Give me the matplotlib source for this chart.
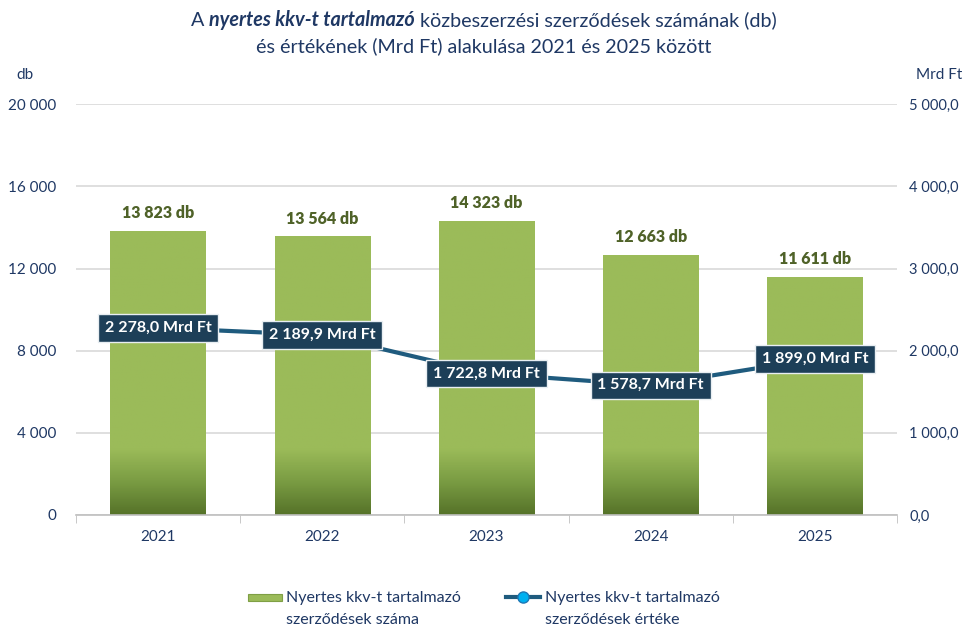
import numpy as np
import matplotlib
matplotlib.use("Agg")
import matplotlib.pyplot as plt
from matplotlib.patches import Rectangle
from matplotlib.lines import Line2D
from matplotlib.colors import LinearSegmentedColormap

plt.rcParams['font.family'] = ['Lato', 'DejaVu Sans']

years = ['2021', '2022', '2023', '2024', '2025']
counts = [13823, 13564, 14323, 12663, 11611]
values = [2278.0, 2189.9, 1722.8, 1578.7, 1899.0]

left_ticks = [0, 4000, 8000, 12000, 16000, 20000]
right_ticks = [0, 1000, 2000, 3000, 4000, 5000]

navy = '#1f3864'
bar_green = '#9bbb59'
line_col = '#1f5b7e'
box_col = '#1d3f58'
label_green = '#4f6228'


def hu_int(v):
    return f"{v:,.0f}".replace(',', ' ')


def hu_dec(v):
    return f"{v:,.1f}".replace(',', ' ').replace('.', ',')


fig = plt.figure(figsize=(9.67, 6.28), dpi=100)
ax = fig.add_axes([0.0786, 0.180, 0.849, 0.654])
ax2 = ax.twinx()

x = np.arange(len(years))
w = 0.58

# bars with dark gradient toward the base
cmap = LinearSegmentedColormap.from_list('g', ['#567329', '#7a9c43', bar_green, bar_green])
grad = np.linspace(0, 1, 256).reshape(-1, 1)
grad = np.clip(grad * 20000 / 4800, 0, 1)
for xi, c in zip(x, counts):
    rect = Rectangle((xi - w / 2, 0), w, c, facecolor=bar_green, edgecolor='none', zorder=2)
    ax.add_patch(rect)
    im = ax.imshow(grad, cmap=cmap, aspect='auto', origin='lower',
                   extent=(xi - w / 2, xi + w / 2, 0, 20000), zorder=2, vmin=0, vmax=1)
    im.set_clip_path(rect)
    ax.annotate(hu_int(c) + ' db', (xi, c), xytext=(0, 7), textcoords='offset points',
                ha='center', va='bottom', fontsize=11.5, fontweight='heavy', color=label_green)

ax.set_xlim(-0.5, len(years) - 0.5)
ax.set_ylim(0, 20000)
ax.set_yticks(left_ticks)
ax.set_yticklabels([hu_int(t) for t in left_ticks])
ax.grid(axis='y', color='#d9d9d9', lw=1.2, zorder=0)
ax.set_axisbelow(True)
ax.set_xticks(x)
ax.set_xticklabels(years)
ax.set_xticks(np.arange(-0.5, len(years)), minor=True)
ax.tick_params(axis='x', which='major', length=0, pad=11, labelsize=11, labelcolor=navy)
ax.tick_params(axis='x', which='minor', length=6, color='#bfbfbf')
ax.tick_params(axis='y', length=0, pad=14, labelsize=11, labelcolor=navy)
for s in ['top', 'left', 'right']:
    ax.spines[s].set_visible(False)
ax.spines['bottom'].set_color('#bfbfbf')
ax.spines['bottom'].set_linewidth(1.2)

ax2.plot(x, values, color=line_col, lw=3, marker='o', markersize=7,
         markerfacecolor='#00b0f0', markeredgecolor=line_col, zorder=3)
ax2.set_ylim(0, 5000)
ax2.set_yticks(right_ticks)
ax2.set_yticklabels([hu_dec(t) for t in right_ticks])
ax2.tick_params(axis='y', length=0, pad=9, labelsize=10.5, labelcolor=navy)
for s in ax2.spines.values():
    s.set_visible(False)
for xi, v in zip(x, values):
    ax2.text(xi, v, hu_dec(v) + ' Mrd Ft', ha='center', va='center', fontsize=11.5,
             fontweight='bold', color='white', zorder=5,
             bbox=dict(boxstyle='square,pad=0.42', facecolor=box_col, edgecolor='#e8eef2', lw=1))

fig.text(0.017, 0.88, 'db', fontsize=11, color=navy, ha='left', va='center')
fig.text(0.995, 0.88, 'Mrd Ft', fontsize=11, color=navy, ha='right', va='center')

# title with mixed styles on first line
fig.canvas.draw()
renderer = fig.canvas.get_renderer()
parts = [('A ', 'normal', 'normal'),
         ('nyertes kkv-t tartalmazó', 'bold', 'italic'),
         (' közbeszerzési szerződések számának (db)', 'normal', 'normal')]
texts = []
for s, wt, st in parts:
    t = fig.text(0, 0.968, s, fontsize=14.2, color=navy, fontweight=wt, fontstyle=st,
                 ha='left', va='center')
    texts.append(t)
widths = [t.get_window_extent(renderer).width for t in texts]
total = sum(widths)
xpix = fig.bbox.width / 2 - total / 2
for t, wd in zip(texts, widths):
    t.set_x(xpix / fig.bbox.width)
    xpix += wd
fig.text(0.5, 0.926, 'és értékének (Mrd Ft) alakulása 2021 és 2025 között', fontsize=14.2,
         color=navy, ha='center', va='center')

# legend drawn by hand so the keys sit on the first text line
fig.add_artist(Rectangle((248 / 967, 1 - 601 / 628), 34 / 967, 7 / 628,
                         transform=fig.transFigure, facecolor=bar_green, edgecolor='#7f9f45', lw=0.8))
fig.add_artist(Line2D([506 / 967, 540 / 967], [1 - 597 / 628] * 2, transform=fig.transFigure,
                      color=line_col, lw=3))
fig.add_artist(Line2D([523 / 967], [1 - 597 / 628], transform=fig.transFigure, marker='o',
                      markersize=8, markerfacecolor='#00b0f0', markeredgecolor='#1f77b4', lw=0))
fig.text(286 / 967, 1 - 598 / 628, 'Nyertes kkv-t tartalmazó', fontsize=11.5, color=navy,
         ha='left', va='center')
fig.text(286 / 967, 1 - 620 / 628, 'szerződések száma', fontsize=11.5, color=navy,
         ha='left', va='center')
fig.text(545 / 967, 1 - 598 / 628, 'Nyertes kkv-t tartalmazó', fontsize=11.5, color=navy,
         ha='left', va='center')
fig.text(545 / 967, 1 - 620 / 628, 'szerződések értéke', fontsize=11.5, color=navy,
         ha='left', va='center')

fig.savefig('out.png', dpi=100)
